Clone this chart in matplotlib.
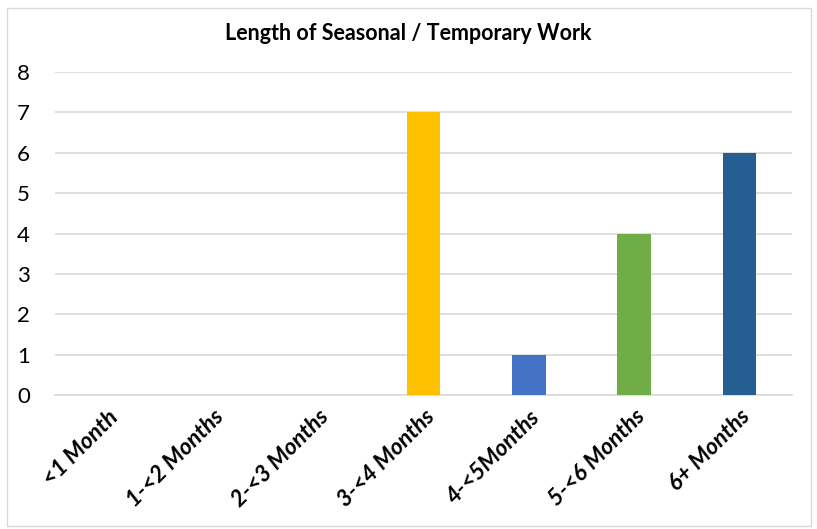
import matplotlib.pyplot as plt
from matplotlib.patches import Rectangle

# data
categories = ['<1 Month', '1-<2 Months', '2-<3 Months', '3-<4 Months',
              '4-<5Months', '5-<6 Months', '6+ Months']
counts = [0, 0, 0, 7, 1, 4, 6]
bar_colors = ['#4472C4', '#4472C4', '#4472C4', '#FFC000',
              '#4472C4', '#70AD47', '#255E91']
y_ticks = [0, 1, 2, 3, 4, 5, 6, 7, 8]

plt.rcParams['font.family'] = ['Lato', 'DejaVu Sans']

fig = plt.figure(figsize = (8.17, 5.29), dpi = 100)
ax = fig.add_axes([0.0673, 0.2533, 0.9021, 0.6106])

x = range(len(categories))
ax.bar(x, counts, width = 0.32, color = bar_colors, zorder = 3)

ax.set_xlim(-0.5, len(categories) - 0.5)
ax.set_ylim(0, 8)
ax.set_yticks(y_ticks)
ax.tick_params(axis = 'y', length = 0, labelsize = 16, pad = 18)
ax.tick_params(axis = 'x', length = 0, pad = 8)
ax.set_xticks(list(x))
ax.set_xticklabels(categories, rotation = 45, ha = 'right', va = 'top',
                   rotation_mode = 'anchor', fontsize = 16.5,
                   fontweight = 'bold', fontstyle = 'italic')

ax.grid(axis = 'y', color = '#D9D9D9', linewidth = 1.2, zorder = 0)
for side in ['top', 'right', 'left']:
	ax.spines[side].set_visible(False)
ax.spines['bottom'].set_color('#D9D9D9')
ax.spines['bottom'].set_linewidth(1.2)

fig.text(0.5, 0.937, 'Length of Seasonal / Temporary Work',
         ha = 'center', va = 'center', fontsize = 15.5, fontweight = 'bold')

# chart border
fig.patches.append(Rectangle((0.008, 0.006), 0.985, 0.978,
                             transform = fig.transFigure, fill = False,
                             edgecolor = '#D9D9D9', linewidth = 1))

fig.savefig('out.png', dpi = 100)
